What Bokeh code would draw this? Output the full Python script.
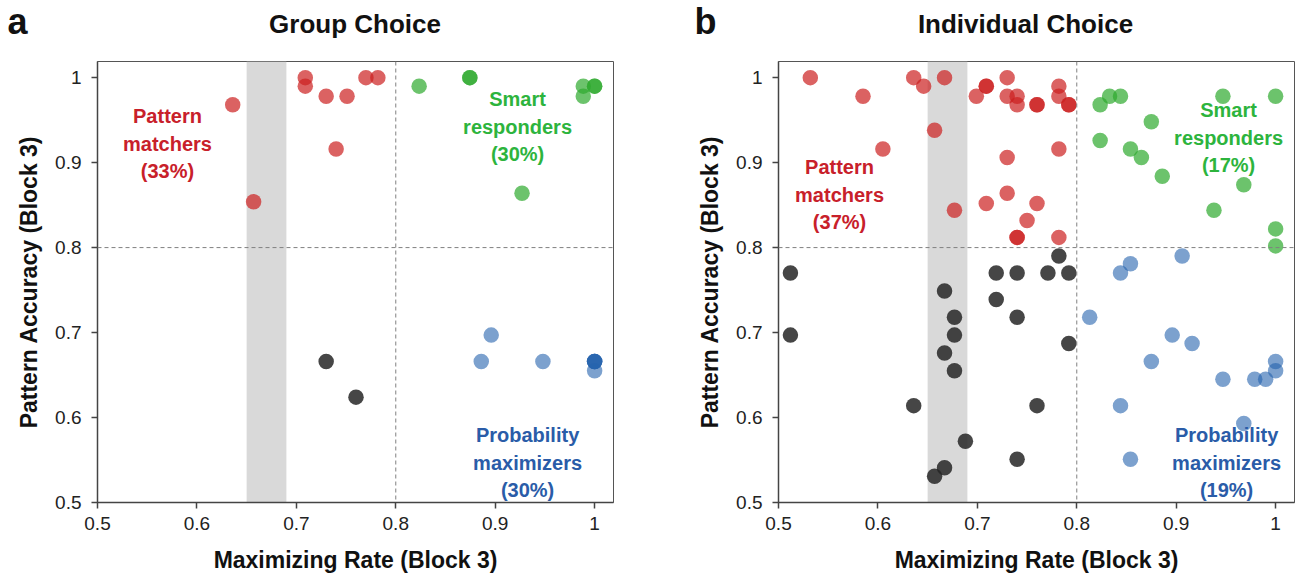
from bokeh.plotting import figure
from bokeh.models import Label, BoxAnnotation, Span, Range1d
from bokeh.layouts import row, column
from bokeh.core.properties import value
from bokeh.embed import file_html
from bokeh.resources import INLINE

# ---------------- data ----------------
ticks = [0.5, 0.6, 0.7, 0.8, 0.9, 1.0]
tick_labels = ["0.5", "0.6", "0.7", "0.8", "0.9", "1"]
band = [0.65, 0.69]
threshold = 0.8

# Panel a: Group Choice
a_red_x = [0.636, 0.657, 0.709, 0.709, 0.730, 0.751, 0.740, 0.770, 0.782]
a_red_y = [0.968, 0.854, 1.0, 0.99, 0.978, 0.978, 0.916, 1.0, 1.0]
a_green_x = [0.8235, 0.8745, 0.8745, 0.9886, 0.9886, 1.0, 1.0, 0.927]
a_green_y = [0.99, 1.0, 1.0, 0.99, 0.978, 0.99, 0.99, 0.864]
a_blue_x = [0.896, 0.886, 0.948, 1.0, 1.0, 1.0, 1.0, 1.0]
a_blue_y = [0.697, 0.666, 0.666, 0.655, 0.666, 0.666, 0.666, 0.666]
a_black_x = [0.730, 0.760]
a_black_y = [0.666, 0.624]

# Panel b: Individual Choice
b_red_x = [0.532, 0.585, 0.605, 0.636, 0.646, 0.667, 0.657, 0.677, 0.699, 0.709,
           0.709, 0.730, 0.730, 0.740, 0.740, 0.760, 0.760, 0.782, 0.782, 0.792,
           0.792, 0.782, 0.730, 0.730, 0.709, 0.760, 0.750, 0.740, 0.740, 0.782]
b_red_y = [1.0, 0.978, 0.916, 1.0, 0.99, 1.0, 0.938, 0.844, 0.978, 0.99,
           0.99, 1.0, 0.978, 0.978, 0.968, 0.968, 0.968, 0.99, 0.978, 0.968,
           0.968, 0.916, 0.906, 0.864, 0.852, 0.852, 0.832, 0.812, 0.812, 0.812]
b_green_x = [0.8235, 0.833, 0.844, 0.947, 1.0, 0.875, 0.8235, 0.854, 0.865, 0.886,
             0.968, 0.938, 1.0, 1.0]
b_green_y = [0.968, 0.978, 0.978, 0.978, 0.978, 0.948, 0.926, 0.916, 0.906, 0.884,
             0.874, 0.844, 0.822, 0.802]
b_blue_x = [0.906, 0.854, 0.844, 0.813, 0.896, 0.916, 0.875, 1.0, 1.0, 0.947,
            0.979, 0.990, 0.844, 0.968, 0.854]
b_blue_y = [0.790, 0.781, 0.770, 0.718, 0.697, 0.687, 0.666, 0.666, 0.655, 0.645,
            0.645, 0.645, 0.614, 0.593, 0.551]
b_black_x = [0.782, 0.512, 0.719, 0.740, 0.771, 0.792, 0.667, 0.719, 0.677, 0.740,
             0.512, 0.677, 0.792, 0.667, 0.677, 0.636, 0.760, 0.688, 0.740, 0.667, 0.657]
b_black_y = [0.790, 0.770, 0.770, 0.770, 0.770, 0.770, 0.749, 0.739, 0.718, 0.718,
             0.697, 0.697, 0.687, 0.676, 0.655, 0.614, 0.614, 0.572, 0.551, 0.541, 0.531]

titles = ["Group Choice", "Individual Choice"]
letters = ["a", "b"]
a_labels = ["Pattern\nmatchers\n(33%)", "Smart\nresponders\n(30%)", "Probability\nmaximizers\n(30%)"]
b_labels = ["Pattern\nmatchers\n(37%)", "Smart\nresponders\n(17%)", "Probability\nmaximizers\n(19%)"]

RED, GREEN, BLUE, BLACK = "#cc1f1f", "#2eaa2e", "#2462ad", "#262626"
TXT_RED, TXT_GREEN, TXT_BLUE = "#c8202a", "#2db43d", "#2a5ca8"
FONT = "Liberation Sans"

HEADER_H = 58


def make_panel(width, left, right, groups, labels, label_pos):
    p = figure(width=width, height=578 - HEADER_H, x_range=(0.5, 1.019), y_range=(0.5, 1.019),
               output_backend="svg", toolbar_location=None,
               min_border_left=left, min_border_right=right,
               min_border_top=61 - HEADER_H, min_border_bottom=76)
    p.grid.visible = False
    p.outline_line_color = "#555555"
    p.outline_line_width = 1
    p.background_fill_color = "white"
    p.border_fill_color = "white"

    for ax in (p.xaxis[0], p.yaxis[0]):
        ax.ticker = ticks
        ax.major_label_overrides = dict(zip(ticks, tick_labels))
        ax.major_tick_out = 6
        ax.major_tick_in = 0
        ax.minor_tick_line_color = None
        ax.axis_line_color = "#444444"
        ax.axis_line_width = 1.5
        ax.major_tick_line_color = "#444444"
        ax.major_tick_line_width = 1.5
        ax.major_label_text_font = FONT
        ax.major_label_text_font_size = "19px"
        ax.major_label_text_color = "#222222"
        ax.axis_label_text_font = FONT
        ax.axis_label_text_font_size = "23px"
        ax.axis_label_text_font_style = "bold"
        ax.axis_label_text_color = "#111111"
    p.xaxis.axis_label = "Maximizing Rate (Block 3)"
    p.yaxis.axis_label = "Pattern Accuracy (Block 3)"
    p.xaxis.major_label_standoff = 8
    p.yaxis.major_label_standoff = 10
    p.xaxis.axis_label_standoff = 14
    p.yaxis.axis_label_standoff = 10

    p.add_layout(BoxAnnotation(left=band[0], right=band[1], fill_color="#d9d9d9",
                               fill_alpha=1.0, line_color=None, level="underlay"))
    p.add_layout(Span(location=threshold, dimension="height", line_color="#808080",
                      line_width=1, line_dash="4 3"))
    p.add_layout(Span(location=threshold, dimension="width", line_color="#808080",
                      line_width=1, line_dash="4 3"))

    for xs, ys, col, alpha in groups:
        p.scatter(xs, ys, size=15.5, fill_color=col, fill_alpha=alpha, line_color=None)

    for txt, (lx, ly), col in zip(labels, label_pos, [TXT_RED, TXT_GREEN, TXT_BLUE]):
        p.add_layout(Label(x=lx, y=ly, text=txt, text_align="center", text_baseline="middle",
                           text_font=FONT, text_font_size="20px", text_font_style="bold",
                           text_color=col, text_line_height=1.25))
    return p


# header strip holding panel letters and titles (pixel coordinates)
header = figure(width=1301, height=HEADER_H, x_range=Range1d(0, 1301), y_range=Range1d(0, HEADER_H),
                output_backend="svg", toolbar_location=None, min_border=0)
header.axis.visible = False
header.grid.visible = False
header.outline_line_color = None
header.text(x=[354.5, 1025], y=[HEADER_H - 23, HEADER_H - 23], text=titles,
            text_align="center", text_baseline="alphabetic", text_font=value(FONT),
            text_font_size="26px", text_font_style="bold", text_color="#111111")
header.text(x=[7, 694], y=[HEADER_H - 21, HEADER_H - 21], text=letters,
            text_align="left", text_baseline="alphabetic", text_font=value(FONT),
            text_font_size="36px", text_font_style="bold", text_color="#111111")

pa = make_panel(681, 97, 68,
                [(a_red_x, a_red_y, RED, 0.7), (a_green_x, a_green_y, GREEN, 0.7),
                 (a_blue_x, a_blue_y, BLUE, 0.6), (a_black_x, a_black_y, BLACK, 0.85)],
                a_labels, [(0.5704, 0.9224), (0.9225, 0.9424), (0.9326, 0.547)])
pb = make_panel(620, 97, 7,
                [(b_red_x, b_red_y, RED, 0.7), (b_green_x, b_green_y, GREEN, 0.7),
                 (b_blue_x, b_blue_y, BLUE, 0.6), (b_black_x, b_black_y, BLACK, 0.85)],
                b_labels, [(0.5614, 0.8624), (0.9527, 0.9294), (0.9507, 0.547)])

layout = column(header, row(pa, pb))
open("out.html", "w").write(file_html(layout, INLINE))
